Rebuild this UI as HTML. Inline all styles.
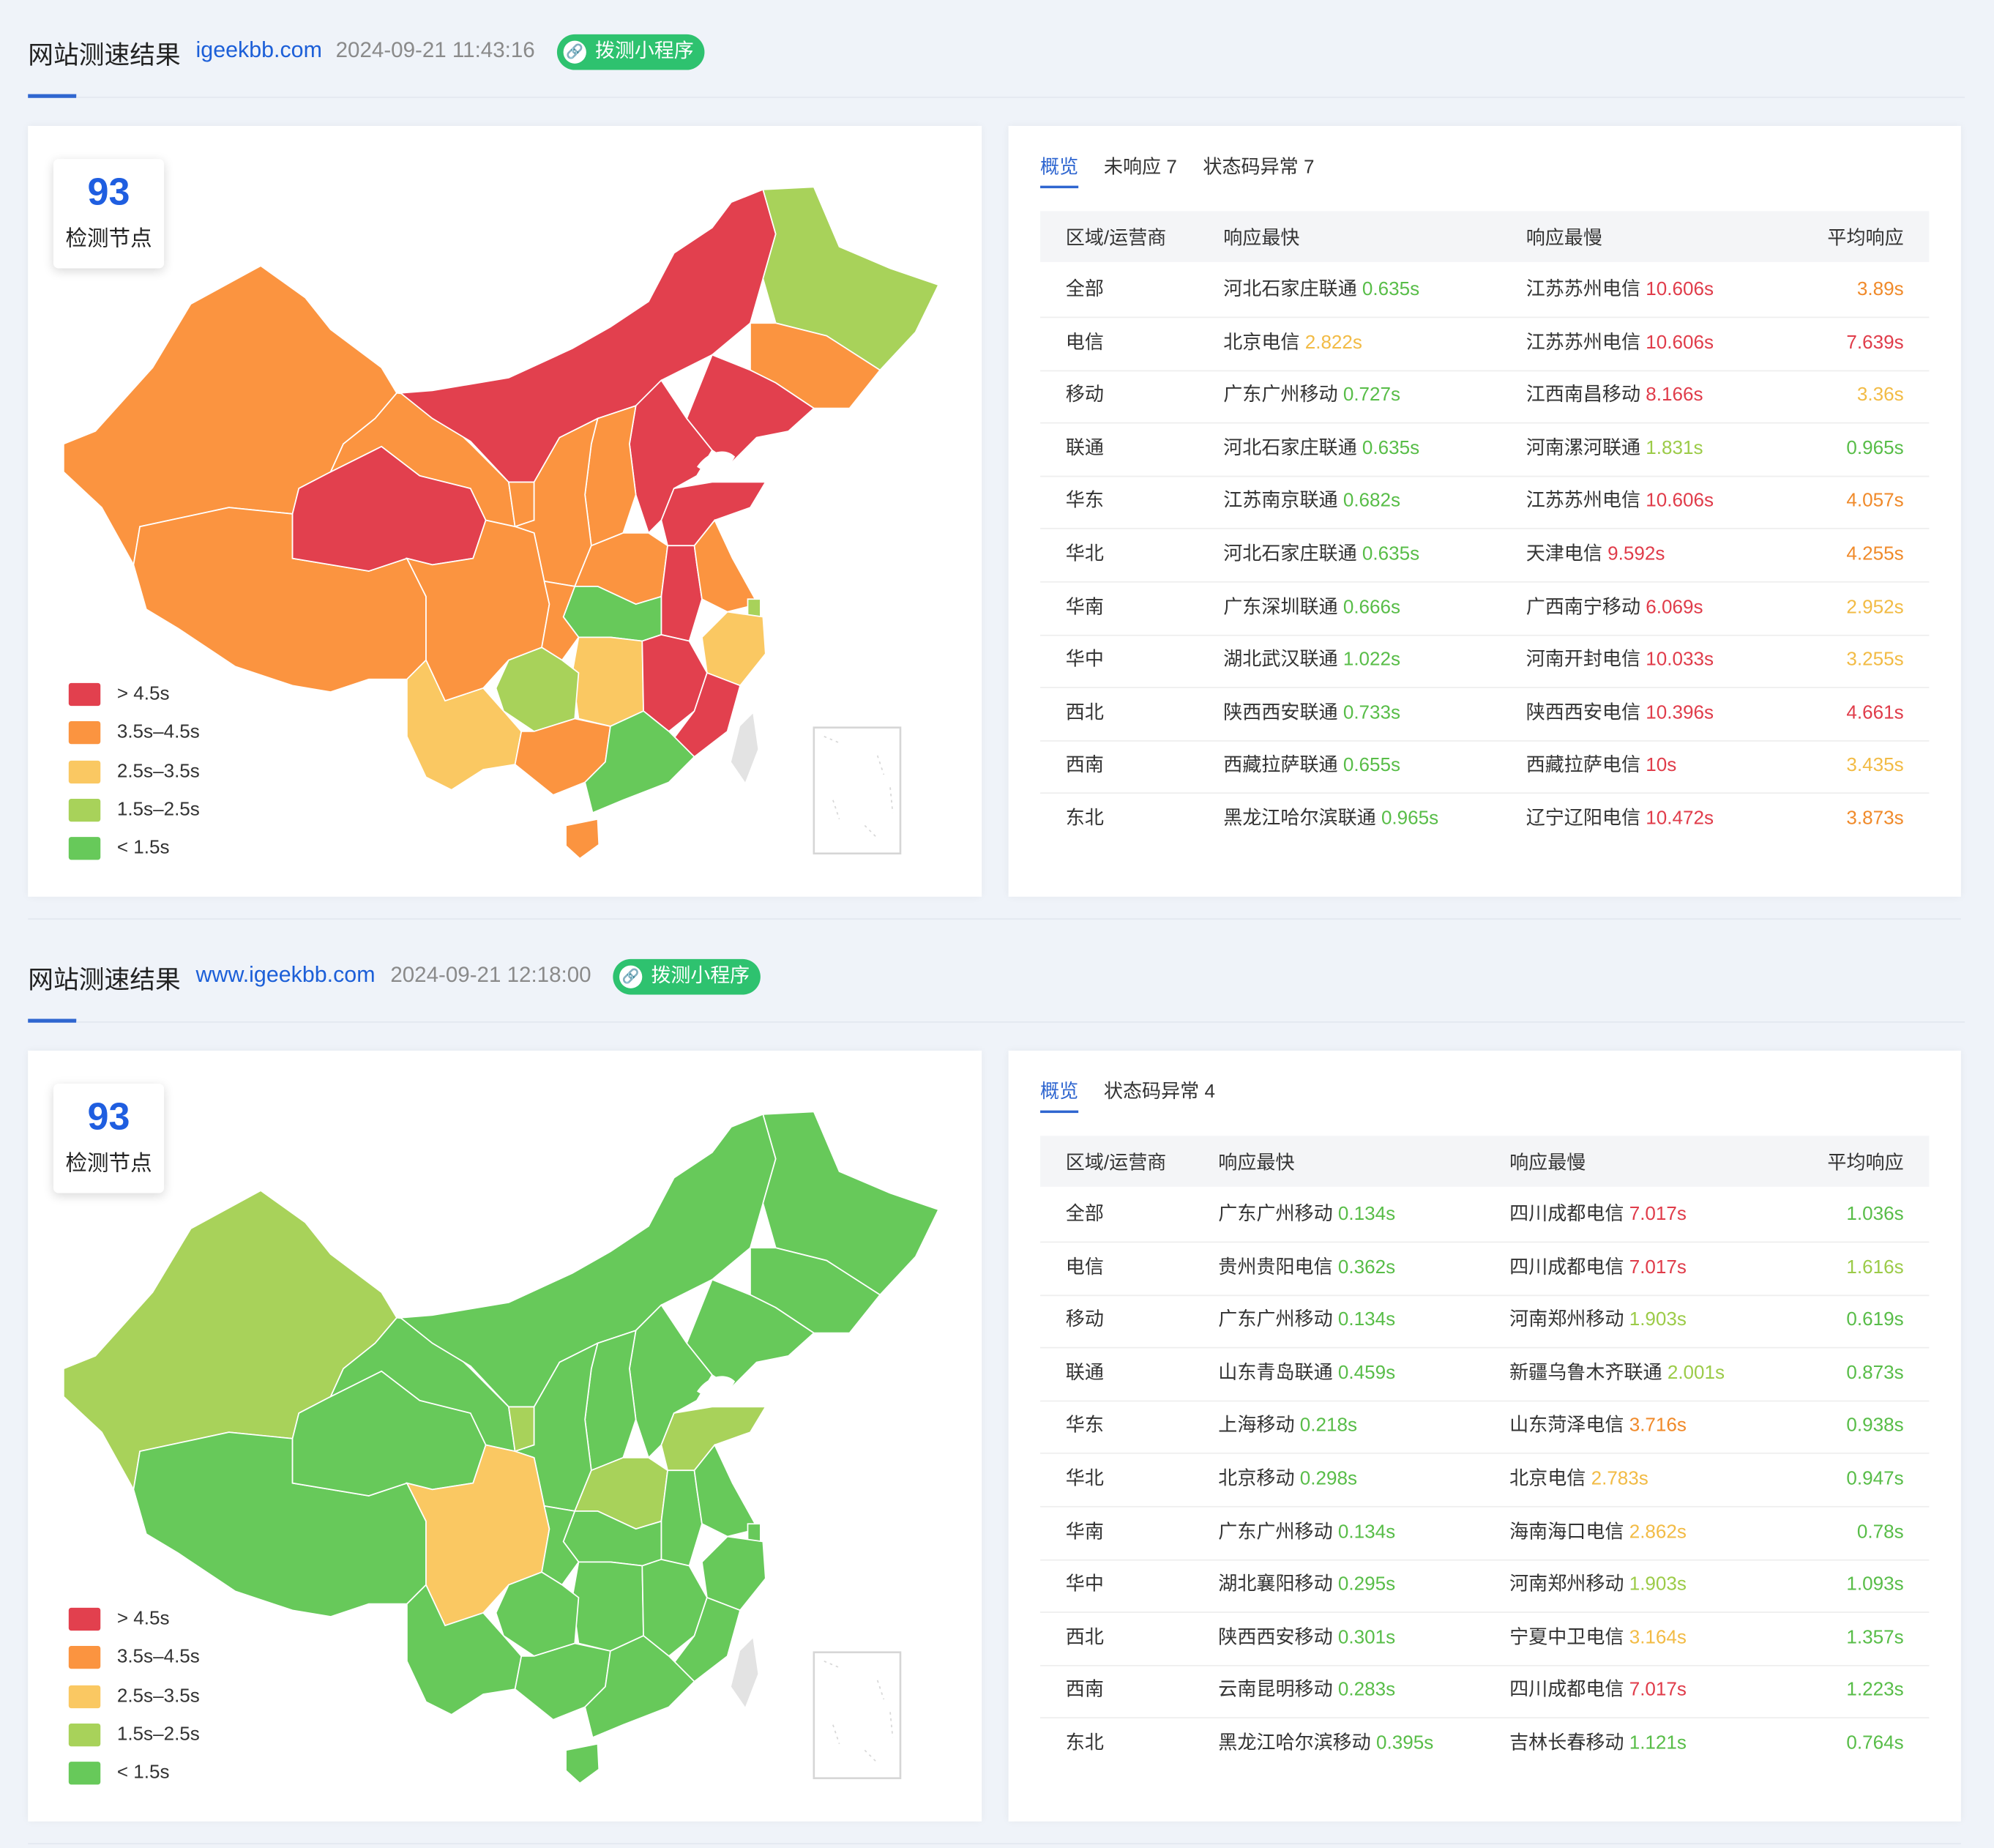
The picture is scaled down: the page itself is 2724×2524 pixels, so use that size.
<!DOCTYPE html>
<html><head><meta charset="utf-8">
<style>
html,body{margin:0;padding:0;width:2724px;height:2524px;overflow:hidden;background:#eff3f9;}
#wrap{position:absolute;left:0;top:0;width:1568px;height:1453px;transform:scale(1.73724);transform-origin:0 0;font-family:"Liberation Sans","Noto Sans CJK SC",sans-serif;color:#222;}
.abs{position:absolute;}
.title{font-size:20px;color:#222;white-space:nowrap;}
.site{font-size:17.5px;color:#1c5fd8;}
.date{font-size:17px;color:#8a8a8a;}
.badge{position:absolute;height:28px;border-radius:14px;background:#2ec26f;color:#fff;font-size:15.5px;line-height:28px;padding:0 8px 0 30px;white-space:nowrap;}
.badge .ic{position:absolute;left:5px;top:5px;width:18px;height:18px;border-radius:9px;background:#fff;color:#2ec26f;font-size:11px;line-height:18px;text-align:center;}
.uline{position:absolute;height:3px;width:38px;background:#2f66d0;}
.hline{position:absolute;height:1px;background:#e3e8f0;}
.card{position:absolute;background:#fff;box-shadow:0 0 6px rgba(0,0,0,0.05);}
.nodes{position:absolute;left:20px;top:26px;width:87px;height:86px;background:#fff;box-shadow:0 2px 8px rgba(0,0,0,0.15);border-radius:4px;text-align:center;}
.nodes b{display:block;color:#1f5ee0;font-size:30px;margin-top:10px;line-height:34px;}
.nodes span{display:block;font-size:17px;margin-top:4px;}
.leg{position:absolute;left:32px;font-size:15px;color:#333;}
.leg i{position:absolute;left:0;top:0;width:25px;height:18px;border-radius:2px;}
.leg span{position:absolute;left:38px;top:0;white-space:nowrap;line-height:18px;}
.tab{position:absolute;font-size:15px;color:#333;white-space:nowrap;}
.th{position:absolute;left:25px;width:699px;height:40px;background:#f4f5f7;}
.cell{position:absolute;font-size:15px;color:#333;white-space:nowrap;line-height:20px;}
.sep{position:absolute;left:25px;width:699px;height:1px;background:#eeeeee;}
</style></head><body>
<div id="wrap"></div>
<script>
// ---------- data ----------
const legendLabels = ["> 4.5s","3.5s–4.5s","2.5s–3.5s","1.5s–2.5s","< 1.5s"];
const legendColors = ["#e2404e","#fb9440","#fac862","#a8d25a","#67c95a"];
const provinceNames = ["xinjiang","tibet","qinghai","gansu","ningxia","inner-mongolia","heilongjiang","jilin","liaoning","hebei","shanxi","shaanxi","shandong","henan","anhui","jiangsu","shanghai","zhejiang","hubei","sichuan","chongqing","hunan","jiangxi","fujian","guizhou","yunnan","guangxi","guangdong","hainan"];
// category index per province (0:>4.5 ... 4:<1.5)
const map1Cats = [1,1,0,1,1,0,3,1,0,0,1,1,0,1,0,1,3,2,4,1,1,2,0,0,3,2,1,4,1];
const map2Cats = [3,4,4,4,3,4,4,4,4,4,4,4,3,3,4,4,4,4,4,2,4,4,4,4,4,4,4,4,4];
const tableRegions = ["全部","电信","移动","联通","华东","华北","华南","华中","西北","西南","东北"];
const t1FastName = ["河北石家庄联通","北京电信","广东广州移动","河北石家庄联通","江苏南京联通","河北石家庄联通","广东深圳联通","湖北武汉联通","陕西西安联通","西藏拉萨联通","黑龙江哈尔滨联通"];
const t1FastVal = ["0.635s","2.822s","0.727s","0.635s","0.682s","0.635s","0.666s","1.022s","0.733s","0.655s","0.965s"];
const t1SlowName = ["江苏苏州电信","江苏苏州电信","江西南昌移动","河南漯河联通","江苏苏州电信","天津电信","广西南宁移动","河南开封电信","陕西西安电信","西藏拉萨电信","辽宁辽阳电信"];
const t1SlowVal = ["10.606s","10.606s","8.166s","1.831s","10.606s","9.592s","6.069s","10.033s","10.396s","10s","10.472s"];
const t1Avg = ["3.89s","7.639s","3.36s","0.965s","4.057s","4.255s","2.952s","3.255s","4.661s","3.435s","3.873s"];
const t2FastName = ["广东广州移动","贵州贵阳电信","广东广州移动","山东青岛联通","上海移动","北京移动","广东广州移动","湖北襄阳移动","陕西西安移动","云南昆明移动","黑龙江哈尔滨移动"];
const t2FastVal = ["0.134s","0.362s","0.134s","0.459s","0.218s","0.298s","0.134s","0.295s","0.301s","0.283s","0.395s"];
const t2SlowName = ["四川成都电信","四川成都电信","河南郑州移动","新疆乌鲁木齐联通","山东菏泽电信","北京电信","海南海口电信","河南郑州移动","宁夏中卫电信","四川成都电信","吉林长春移动"];
const t2SlowVal = ["7.017s","7.017s","1.903s","2.001s","3.716s","2.783s","2.862s","1.903s","3.164s","7.017s","1.121s"];
const t2Avg = ["1.036s","1.616s","0.619s","0.873s","0.938s","0.947s","0.78s","1.093s","1.357s","1.223s","0.764s"];

// ---------- shapes (geometry, card-local coords) ----------
const shapes = {
"xinjiang":"50,350 75,340 120,290 150,240 205,210 240,235 260,260 300,290 312,310 295,330 270,350 260,372 235,385 230,405 180,400 110,415 105,445 80,400 50,372",
"tibet":"105,445 110,415 180,400 230,405 230,440 290,450 320,440 335,470 335,520 320,535 290,535 260,545 230,540 185,525 140,495 115,480",
"qinghai":"230,405 235,385 260,372 300,352 330,375 370,385 382,410 372,440 340,445 320,440 290,450 230,440",
"gansu":"260,372 270,350 295,330 312,310 330,312 370,350 400,380 405,415 382,410 370,385 330,375 300,352",
"ningxia":"400,380 420,380 420,410 405,415",
"inner-mongolia":"315,310 340,308 400,298 450,275 480,258 510,238 530,200 560,180 575,160 600,150 610,185 600,220 590,255 560,280 520,300 500,320 470,330 440,345 420,380 400,380 370,348 340,330",
"heilongjiang":"600,150 640,148 660,195 700,212 738,225 720,262 692,292 650,265 610,255 600,220 610,185",
"jilin":"590,255 610,255 650,265 692,292 668,322 640,322 610,302 590,292",
"liaoning":"560,280 590,292 610,302 640,322 620,340 595,345 575,365 560,355 540,330",
"hebei":"500,320 520,300 540,330 560,355 548,375 530,385 520,410 510,420 500,390 495,350",
"shanxi":"470,330 500,320 495,350 500,390 490,420 465,430 460,390 465,350",
"shaanxi":"420,380 440,345 470,330 465,350 460,390 465,430 452,462 428,458 420,420 405,415 420,410",
"shandong":"520,410 530,385 560,380 602,380 590,400 562,410 546,430 525,430",
"henan":"465,430 490,420 510,420 525,430 520,470 500,476 470,462 452,462",
"anhui":"520,470 525,430 546,430 548,445 552,472 542,505 520,500",
"jiangsu":"546,430 562,410 576,440 596,476 572,482 552,472 548,445",
"shanghai":"588,472 598,472 598,488 588,488",
"zhejiang":"572,482 600,486 602,515 582,540 556,530 552,502",
"hubei":"452,462 470,462 500,476 520,470 520,500 505,505 480,502 455,502 443,486",
"sichuan":"320,440 340,445 372,440 382,410 405,415 420,420 428,458 432,476 426,510 400,520 380,542 350,552 335,520 335,470",
"chongqing":"428,458 452,462 443,486 455,502 442,520 426,510 432,476",
"hunan":"455,502 480,502 505,505 506,560 480,572 455,566 450,530",
"jiangxi":"505,505 520,500 542,505 556,530 546,560 526,576 506,560",
"fujian":"546,560 556,530 582,540 572,576 546,596 528,584",
"guizhou":"400,520 426,510 442,520 455,530 452,566 420,576 396,560 390,542",
"yunnan":"320,535 335,520 350,552 380,542 396,560 410,576 405,602 380,606 355,622 335,612 320,580",
"guangxi":"410,576 420,576 452,566 480,572 476,600 460,616 435,626 405,602",
"guangdong":"480,572 506,560 526,576 546,596 526,616 490,630 466,640 460,616 476,600",
"hainan":"445,650 470,645 471,665 456,676 445,666"
};

const W = document.getElementById('wrap');
function el(tag, cls, parent, name, inter){
  const e=document.createElement(tag); if(cls) e.className=cls; (parent||W).appendChild(e);
  
  
  return e;
}
function colorFor(v){
  const x=parseFloat(v);
  if(x>4.5) return "#e03c4a";
  if(x>=3.5) return "#f08a2a";
  if(x>=2.5) return "#f2bb45";
  if(x>=1.5) return "#9ccb48";
  return "#58bd48";
}
function at(e,x,y){e.style.left=x+'px';e.style.top=y+'px';return e;}

function section(y0, site, date, badgeX, cats, tabs, fn, fv, sn, sv, av, col2x, col3x){
  const t=at(el('div','abs title',W,'section-title',false),22,y0+27); t.textContent='网站测速结果';
  const s=at(el('div','abs site',W,'site-url',true),154,y0+29); s.textContent=site;
  const d=at(el('div','abs date',W,'test-time',false),site.length>12?307:264,y0+30); d.textContent=date;
  const b=at(el('div','badge',W,'mini-program-button',true),badgeX,y0+27); b.textContent='拨测小程序';
  const ic=el('span','ic',b,'link-icon',false); ic.textContent='🔗';
  at(el('div','uline',W,'title-underline',false),22,y0+74);
  const hl=at(el('div','hline',W,'title-divider',false),60,y0+76); hl.style.width='1485px';
  // map card
  const mc=at(el('div','card',W,'map-card',false),22,y0+99); mc.style.width='750px';mc.style.height='606px';
  const nb=el('div','nodes',mc,'node-count-box',false);
  const nn=el('b','',nb,'node-count',false); nn.textContent='93';
  const nl=el('span','',nb,'node-count-label',false); nl.textContent='检测节点';
  const NS='http://www.w3.org/2000/svg';
  const svg=document.createElementNS(NS,'svg'); svg.setAttribute('width','750');svg.setAttribute('height','606');
  svg.style.position='absolute';svg.style.left='0';svg.style.top='0';
  
  svg.setAttribute('viewBox','22 100 750 606');
  mc.appendChild(svg);
  provinceNames.forEach((p,i)=>{
    const pg=document.createElementNS(NS,'polygon');
    pg.setAttribute('points',shapes[p]);
    pg.setAttribute('fill',legendColors[cats[i]]);
    pg.setAttribute('stroke','#ffffff');pg.setAttribute('stroke-width','1');
    
    
    svg.appendChild(pg);
  });
  const tw=document.createElementNS(NS,'polygon');
  tw.setAttribute('points','582,572 592,562 596,590 586,616 575,600');tw.setAttribute('fill','#e3e3e3');
  svg.appendChild(tw);
  const bay=document.createElementNS(NS,'path');
  bay.setAttribute('d','M548,368 C556,356 570,352 578,360 C572,372 560,376 548,368Z');bay.setAttribute('fill','#ffffff');
  svg.appendChild(bay);
  const ins=document.createElementNS(NS,'rect');
  ins.setAttribute('x','640');ins.setAttribute('y','573');ins.setAttribute('width','68');ins.setAttribute('height','99');
  ins.setAttribute('fill','#fff');ins.setAttribute('stroke','#d6d6d6');ins.setAttribute('stroke-width','1.5');
  svg.appendChild(ins);
  const isl=document.createElementNS(NS,'path');
  isl.setAttribute('d','M648,580 L660,585 M690,595 L695,610 M655,630 L660,645 M680,650 L690,660 M700,620 L702,640');
  isl.setAttribute('stroke','#d8d8d8');isl.setAttribute('stroke-dasharray','2,3');isl.setAttribute('fill','none');
  svg.appendChild(isl);
  legendLabels.forEach((l,i)=>{
    const lg=at(el('div','leg',mc,'legend-entry',true),32,438+i*30.3);
    const sw=el('i','',lg,'legend-swatch',false); sw.style.background=legendColors[i];
    const tx=el('span','',lg,'legend-label',false); tx.textContent=l;
  });
  // table card
  const tc=at(el('div','card',W,'result-table-card',false),793,y0+99); tc.style.width='749px';tc.style.height='606px';
  let tx=25;
  tabs.forEach((tb,i)=>{
    const e=at(el('div','tab',tc,'tab-'+i,true),tx,21); e.textContent=tb;
    if(i===0){e.style.color='#2f66d0';const u=at(el('div','abs',tc,'active-tab-underline',false),25,47);u.style.width='30px';u.style.height='2px';u.style.background='#2f66d0';}
    tx+= i===0?50:78;
  });
  at(el('div','th',tc,'table-header',false),25,67);
  const hx=[45,col2x,col3x];
  ['区域/运营商','响应最快','响应最慢'].forEach((h,i)=>{const c=at(el('div','cell',tc,'column-header',false),hx[i],79);c.textContent=h;});
  const ah=at(el('div','cell',tc,'column-header-avg',false),0,79);ah.style.right='45px';ah.style.left='auto';ah.textContent='平均响应';
  tableRegions.forEach((r,i)=>{
    const y=119+i*41.6;
    const c1=at(el('div','cell',tc,'region-cell',false),45,y);c1.textContent=r;
    const c2=at(el('div','cell',tc,'fastest-cell',false),col2x,y);
    c2.innerHTML=fn[i]+' <span style="color:'+colorFor(fv[i])+'">'+fv[i]+'</span>';
    const c3=at(el('div','cell',tc,'slowest-cell',false),col3x,y);
    c3.innerHTML=sn[i]+' <span style="color:'+colorFor(sv[i])+'">'+sv[i]+'</span>';
    const c4=el('div','cell',tc,'average-cell',false);c4.style.top=y+'px';c4.style.right='45px';
    c4.style.color=colorFor(av[i]);c4.textContent=av[i];
    if(i<tableRegions.length-1){at(el('div','sep',tc,'row-separator',false),25,y+31);}
  });
  const bl=at(el('div','hline',W,'section-bottom-line',false),22,y0+722);bl.style.width='1520px';
}
section(0,'igeekbb.com','2024-09-21 11:43:16',438,map1Cats,['概览','未响应 7','状态码异常 7'],t1FastName,t1FastVal,t1SlowName,t1SlowVal,t1Avg,169,407);
section(727,'www.igeekbb.com','2024-09-21 12:18:00',482,map2Cats,['概览','状态码异常 4'],t2FastName,t2FastVal,t2SlowName,t2SlowVal,t2Avg,165,394);
</script>
</body></html>
